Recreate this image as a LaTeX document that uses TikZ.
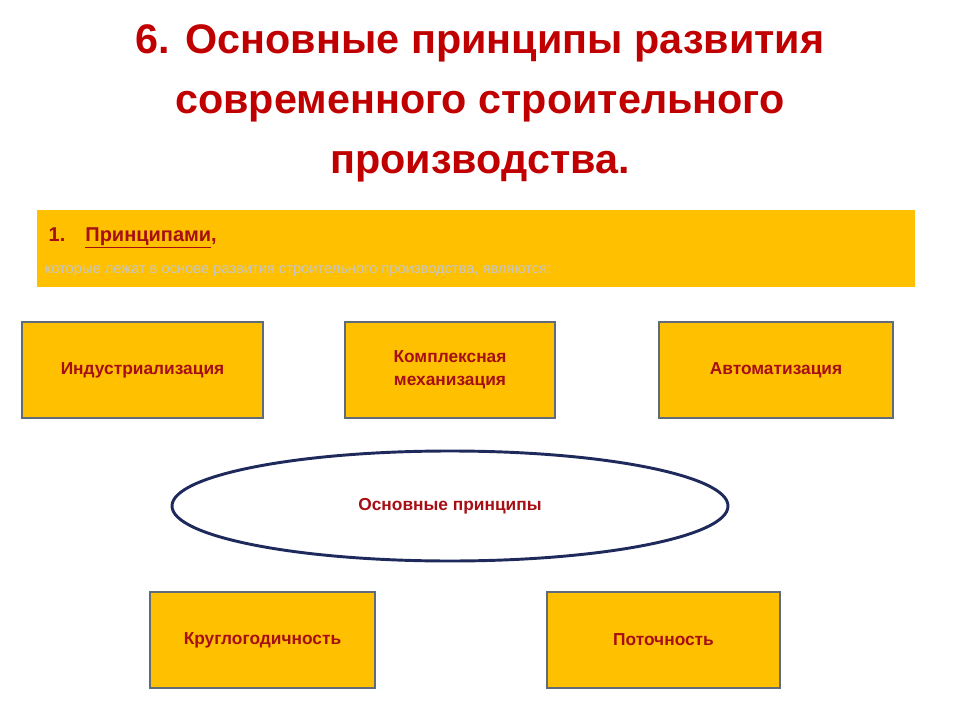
\documentclass[tikz,border=0pt]{standalone}
\usepackage{fontspec}
\setmainfont{Liberation Sans}
\usetikzlibrary{shapes.geometric}
\definecolor{dred}{HTML}{C00000}
\definecolor{tred}{HTML}{A50F15}
\definecolor{gold}{HTML}{FFC000}
\definecolor{bord}{HTML}{5F6B7A}
\definecolor{navy}{HTML}{1F2A5C}
\tikzset{pbox/.style={draw=bord,line width=1.6pt,fill=gold,align=center,font=\bfseries\fontsize{13}{17}\selectfont,text=tred}}
\begin{document}
\begin{tikzpicture}[x=0.75pt,y=-0.75pt]
\useasboundingbox (0,0) rectangle (960,720);
\node[text=dred,font=\bfseries\fontsize{31}{45}\selectfont,align=center] (title) at (480,103) {6. Основные принципы развития\\современного строительного\\производства.};
\node[fill=gold,minimum width=878*0.75pt,minimum height=77*0.75pt,inner sep=0] (ban) at (476,248.5) {};
\node[anchor=west,text=tred,font=\bfseries\fontsize{15}{19}\selectfont] (b1) at (44,238) {1.\quad$\underline{\hbox{Принципами}}$,};
\node[anchor=west,text=gray!45,font=\fontsize{11}{14}\selectfont] (b2) at (40,271) {которые лежат в основе развития строительного производства, являются:};
\node[pbox,minimum width=241*0.75pt,minimum height=96*0.75pt] (n1) at (142.5,370) {Индустриализация};
\node[pbox,minimum width=210*0.75pt,minimum height=96*0.75pt] (n2) at (450,370) {Комплексная\\механизация};
\node[pbox,minimum width=234*0.75pt,minimum height=96*0.75pt] (n3) at (776,370) {Автоматизация};
\node[ellipse,draw=navy,line width=2.2pt,fill=white,minimum width=556*0.75pt,minimum height=110*0.75pt,text=tred,font=\bfseries\fontsize{13}{17}\selectfont] (e) at (450,506) {Основные принципы};
\node[pbox,minimum width=225*0.75pt,minimum height=96*0.75pt] (n4) at (262.5,640) {Круглогодичность};
\node[pbox,minimum width=233*0.75pt,minimum height=96*0.75pt] (n5) at (663.5,640) {Поточность};
\end{tikzpicture}
\end{document}
